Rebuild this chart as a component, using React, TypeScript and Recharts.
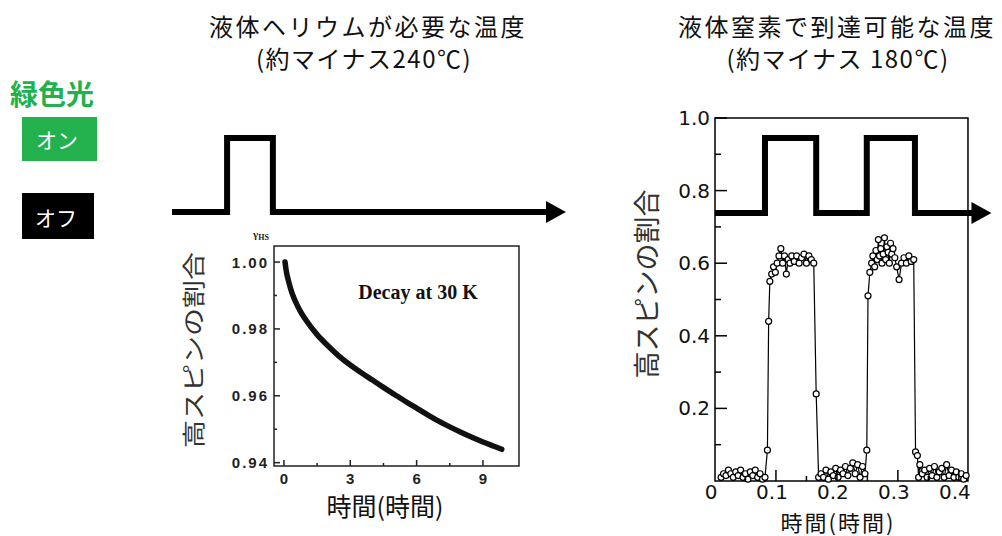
import React from 'react';
import { ComposedChart, LineChart, Line, XAxis, YAxis, ReferenceArea } from 'recharts';

// ---- Inset (left) decay curve: time (hours) vs high-spin fraction ----
const decayTime = [0.05, 0.1, 0.2, 0.35, 0.5, 0.75, 1.0, 1.5, 2.0, 2.5, 3.0, 3.5, 4.0, 4.5, 5.0, 5.5, 6.0, 6.5, 7.0, 7.5, 8.0, 8.5, 9.0, 9.5, 9.85];
const decayFrac = [1.0, 0.9975, 0.9945, 0.991, 0.9885, 0.9852, 0.9826, 0.9783, 0.9749, 0.9718, 0.9692, 0.9669, 0.9647, 0.9625, 0.9604, 0.9583, 0.9563, 0.9543, 0.9524, 0.9507, 0.9491, 0.9476, 0.9462, 0.9449, 0.944];

// ---- Right panel: measured high-spin fraction vs time (hours) ----
const hsTime = [
  0.010, 0.014, 0.018, 0.022, 0.026, 0.030, 0.034, 0.038, 0.042, 0.046, 0.050, 0.054, 0.058, 0.062, 0.066, 0.070, 0.074, 0.078, 0.082,
  0.086, 0.088, 0.090, 0.093, 0.096, 0.099, 0.102, 0.105, 0.108, 0.111, 0.114, 0.117, 0.120, 0.123, 0.126, 0.130, 0.134, 0.138, 0.142, 0.146, 0.150, 0.154, 0.158, 0.162,
  0.166, 0.170,
  0.174, 0.178, 0.182, 0.186, 0.190, 0.194, 0.198, 0.202, 0.206, 0.210, 0.214, 0.218, 0.222, 0.226, 0.230, 0.234, 0.238, 0.242, 0.246,
  0.249, 0.251, 0.254, 0.257, 0.259, 0.262, 0.264, 0.266, 0.268, 0.270, 0.272, 0.274, 0.276, 0.278, 0.280, 0.282, 0.284, 0.286, 0.288, 0.290, 0.292, 0.295, 0.298, 0.302, 0.306, 0.310, 0.314, 0.318, 0.322, 0.326,
  0.329, 0.332, 0.334, 0.336,
  0.340, 0.344, 0.348, 0.352, 0.356, 0.360, 0.364, 0.368, 0.372, 0.376, 0.380, 0.384, 0.388, 0.392, 0.396, 0.400, 0.404, 0.408, 0.412,
];
const hsFrac = [
  0.010, 0.020, 0.015, 0.030, 0.020, 0.010, 0.025, 0.015, 0.030, 0.010, 0.020, 0.005, 0.025, 0.015, 0.030, 0.010, 0.020, 0.005, 0.010,
  0.085, 0.440, 0.550, 0.570, 0.590, 0.575, 0.600, 0.620, 0.640, 0.600, 0.620, 0.570, 0.610, 0.600, 0.620, 0.605, 0.620, 0.600, 0.615, 0.625, 0.600, 0.620, 0.610, 0.600,
  0.240, 0.010,
  0.020, 0.010, 0.030, 0.005, 0.025, 0.015, 0.035, 0.010, 0.030, 0.020, 0.040, 0.015, 0.035, 0.050, 0.020, 0.045, 0.010, 0.040, 0.020,
  0.085, 0.510, 0.575, 0.600, 0.620, 0.590, 0.635, 0.610, 0.665, 0.620, 0.640, 0.600, 0.625, 0.670, 0.610, 0.645, 0.630, 0.600, 0.655, 0.625, 0.640, 0.615, 0.590, 0.555, 0.600, 0.615, 0.600, 0.620, 0.605, 0.610,
  0.080, 0.070, 0.010, 0.045,
  0.020, 0.030, 0.010, 0.035, 0.015, 0.040, 0.010, 0.025, 0.035, 0.010, 0.045, 0.015, 0.030, 0.010, 0.025, 0.010, 0.020, 0.005, 0.015,
];

// ---- Green-light on/off schematic (square waves) ----
const rightWaveTime = [0, 0.082, 0.082, 0.166, 0.166, 0.249, 0.249, 0.328, 0.328, 0.424];
const rightWaveLevel = [0.738, 0.738, 0.945, 0.945, 0.738, 0.738, 0.945, 0.945, 0.738, 0.738];
const leftWaveTime = [0, 14.2, 14.2, 26, 26, 96.9];
const leftWaveLevel = [0.08, 0.08, 0.82, 0.82, 0.08, 0.08];

// ---- Tick values ----
const rightYTicks = [0, 0.1, 0.2, 0.3, 0.4, 0.5, 0.6, 0.7, 0.8, 0.9, 1.0];
const rightXTicks = [0, 0.05, 0.1, 0.15, 0.2, 0.25, 0.3, 0.35, 0.4];
const insetYTicks = [0.94, 0.95, 0.96, 0.97, 0.98, 0.99, 1.0];
const insetXTicks = [0, 1.5, 3, 4.5, 6, 7.5, 9];

const decayRows = decayTime.map((x, i) => ({ x, frac: decayFrac[i] }));
const hsRows = hsTime.map((x, i) => ({ x, hs: hsFrac[i] }));
const rightWaveRows = rightWaveTime.map((x, i) => ({ x, wave: rightWaveLevel[i] }));
const leftWaveRows = leftWaveTime.map((x, i) => ({ x, wave: leftWaveLevel[i] }));

const CJK = '"Noto Sans CJK JP", sans-serif';
const GREEN = '#22b14c';

const arrowDot = (n: number) => (props: any) => {
  const { cx, cy, index } = props;
  if (index !== n - 1) return <g key={`d${index}`} />;
  return <polygon key="arrow" points={`${cx - 2},${cy - 11} ${cx + 18},${cy} ${cx - 2},${cy + 11}`} fill="#000" />;
};

const RightYTick = (props: any) => {
  const { x, y, payload } = props;
  const v = payload.value as number;
  const k = Math.round(v * 10);
  if (k === 0) return <g />;
  const major = k % 2 === 0;
  return (
    <g>
      <line x1={x} x2={x + (major ? 12 : 6)} y1={y} y2={y} stroke="#000" strokeWidth={1.5} />
      {major && (
        <text x={x - 5} y={y} textAnchor="end" dominantBaseline="central" fontSize={20} fontFamily='"DejaVu Sans", sans-serif' fill="#111">
          {v.toFixed(1)}
        </text>
      )}
    </g>
  );
};

const RightXTick = (props: any) => {
  const { x, y, payload } = props;
  const v = payload.value as number;
  const k = Math.round(v * 20);
  const major = k % 2 === 0;
  return (
    <g>
      {k !== 0 && <line x1={x} x2={x} y1={y} y2={y - (major ? 11 : 5)} stroke="#000" strokeWidth={1.5} />}
      {major && (
        <text x={x - 4} y={y + 11} textAnchor="middle" dominantBaseline="central" fontSize={20} fontFamily='"DejaVu Sans", sans-serif' fill="#111">
          {k === 0 ? '0' : v.toFixed(1)}
        </text>
      )}
    </g>
  );
};

const InsetYTick = (props: any) => {
  const { x, y, payload } = props;
  const v = payload.value as number;
  const k = Math.round(v * 100);
  const major = k % 2 === 0;
  return (
    <g>
      <line x1={x} x2={x + (major ? 6 : 3)} y1={y} y2={y} stroke="#222" strokeWidth={1.5} />
      {major && (
        <text x={x - 5} y={y} textAnchor="end" dominantBaseline="central" fontSize={15} fontWeight="bold" letterSpacing={2} fontFamily='"Liberation Sans", sans-serif' fill="#222">
          {v.toFixed(2)}
        </text>
      )}
    </g>
  );
};

const InsetXTick = (props: any) => {
  const { x, y, payload } = props;
  const v = payload.value as number;
  const major = Number.isInteger(v);
  return (
    <g>
      <line x1={x} x2={x} y1={y} y2={y - (major ? 6 : 3)} stroke="#222" strokeWidth={1.5} />
      {major && (
        <text x={x} y={y + 12} textAnchor="middle" dominantBaseline="central" fontSize={15} fontWeight="bold" fontFamily='"Liberation Sans", sans-serif' fill="#222">
          {String(v)}
        </text>
      )}
    </g>
  );
};

export default function App() {
  return (
    <div style={{ position: 'absolute', left: 0, top: 0, width: 1002, height: 536, background: '#fff', overflow: 'hidden' }}>
      <svg width={1002} height={536} style={{ position: 'absolute', left: 0, top: 0 }}>
        <g fontFamily={CJK} fill="#111" textAnchor="middle" dominantBaseline="central">
          <text x={368} y={25} fontSize={24} letterSpacing={2.5}>液体ヘリウムが必要な温度</text>
          <text x={364} y={57} fontSize={24} letterSpacing={1.5}>(約マイナス240℃)</text>
          <text x={837} y={25} fontSize={24} letterSpacing={2.5}>液体窒素で到達可能な温度</text>
          <text x={838} y={57} fontSize={24} letterSpacing={1.5}>(約マイナス 180℃)</text>
          <text x={52} y={93} fontSize={28} fontWeight="bold" fill={GREEN}>緑色光</text>
          <rect x={22} y={117} width={75} height={44} fill={GREEN} />
          <text x={57} y={139} fontSize={21} fill="#fff">オン</text>
          <rect x={22} y={193} width={72} height={46} fill="#000" />
          <text x={56} y={217} fontSize={21} fill="#fff">オフ</text>
          <text transform="translate(192,350) rotate(-90) scale(1,0.8)" fontSize={28} fill="#333">高スピンの割合</text>
          <text transform="translate(645,284) rotate(-90)" fontSize={27} fill="#333">高スピンの割合</text>
          <text x={385} y={505} fontSize={25}>時間(時間)</text>
          <text x={838} y={521} fontSize={22} letterSpacing={2}>時間(時間)</text>
        </g>
        <text x={253} y={238} fontSize={11} fontWeight="bold" fontFamily='"Liberation Serif", serif' fill="#222">
          γ<tspan fontSize={8} dy={2}>HS</tspan>
        </text>
        <text x={418} y={292} textAnchor="middle" dominantBaseline="central" fontSize={20} fontWeight="bold" fontFamily='"Liberation Serif", serif' fill="#111">
          Decay at 30 K
        </text>
      </svg>

      {/* Left schematic square wave */}
      <div style={{ position: 'absolute', left: 160, top: 110 }}>
        <LineChart width={420} height={120} data={leftWaveRows} margin={{ top: 10, right: 20, bottom: 10, left: 12 }}>
          <XAxis dataKey="x" type="number" domain={[0, 100]} hide />
          <YAxis type="number" domain={[0, 1]} hide />
          <Line dataKey="wave" type="linear" stroke="#000" strokeWidth={6} strokeLinejoin="miter" strokeLinecap="butt"
            dot={arrowDot(leftWaveRows.length)} activeDot={false} isAnimationActive={false} />
        </LineChart>
      </div>

      {/* Left inset: decay at 30 K */}
      <div style={{ position: 'absolute', left: 170, top: 220 }}>
        <ComposedChart width={360} height={316} data={decayRows} margin={{ top: 26, right: 11, bottom: 0, left: 0 }}>
          <XAxis dataKey="x" type="number" domain={[-0.45, 10.63]} ticks={insetXTicks} interval={0} height={70}
            axisLine={false} tickLine={false} tickSize={0} tickMargin={0} tick={InsetXTick} />
          <YAxis type="number" domain={[0.939, 1.0048]} ticks={insetYTicks} interval={0} width={104}
            axisLine={false} tickLine={false} tickSize={0} tickMargin={0} tick={InsetYTick} />
          <ReferenceArea x1={-0.45} x2={10.63} y1={0.939} y2={1.0048} fill="none" stroke="#222" strokeWidth={1.5} />
          <Line dataKey="frac" type="monotone" stroke="#111" strokeWidth={5.5} strokeLinecap="round" dot={false} activeDot={false} isAnimationActive={false} />
        </ComposedChart>
      </div>

      {/* Right panel */}
      <div style={{ position: 'absolute', left: 600, top: 0 }}>
        <ComposedChart width={402} height={536} margin={{ top: 118, right: 6.6, bottom: 0, left: 0 }}>
          <XAxis dataKey="x" type="number" domain={[0, 0.46]} ticks={rightXTicks} interval={0} height={55}
            axisLine={false} tickLine={false} tickSize={0} tickMargin={0} tick={RightXTick} />
          <YAxis type="number" domain={[0, 1]} ticks={rightYTicks} interval={0} width={115}
            axisLine={false} tickLine={false} tickSize={0} tickMargin={0} tick={RightYTick} />
          <ReferenceArea x1={0} x2={0.415} y1={0} y2={1} fill="none" stroke="#000" strokeWidth={1.5} />
          <Line data={rightWaveRows} dataKey="wave" type="linear" stroke="#000" strokeWidth={6} strokeLinejoin="miter" strokeLinecap="butt"
            dot={arrowDot(rightWaveRows.length)} activeDot={false} isAnimationActive={false} />
          <Line data={hsRows} dataKey="hs" type="linear" stroke="#000" strokeWidth={1.2}
            dot={{ r: 3, fill: '#fff', stroke: '#000', strokeWidth: 1.2 }} activeDot={false} isAnimationActive={false} />
        </ComposedChart>
      </div>
    </div>
  );
}
